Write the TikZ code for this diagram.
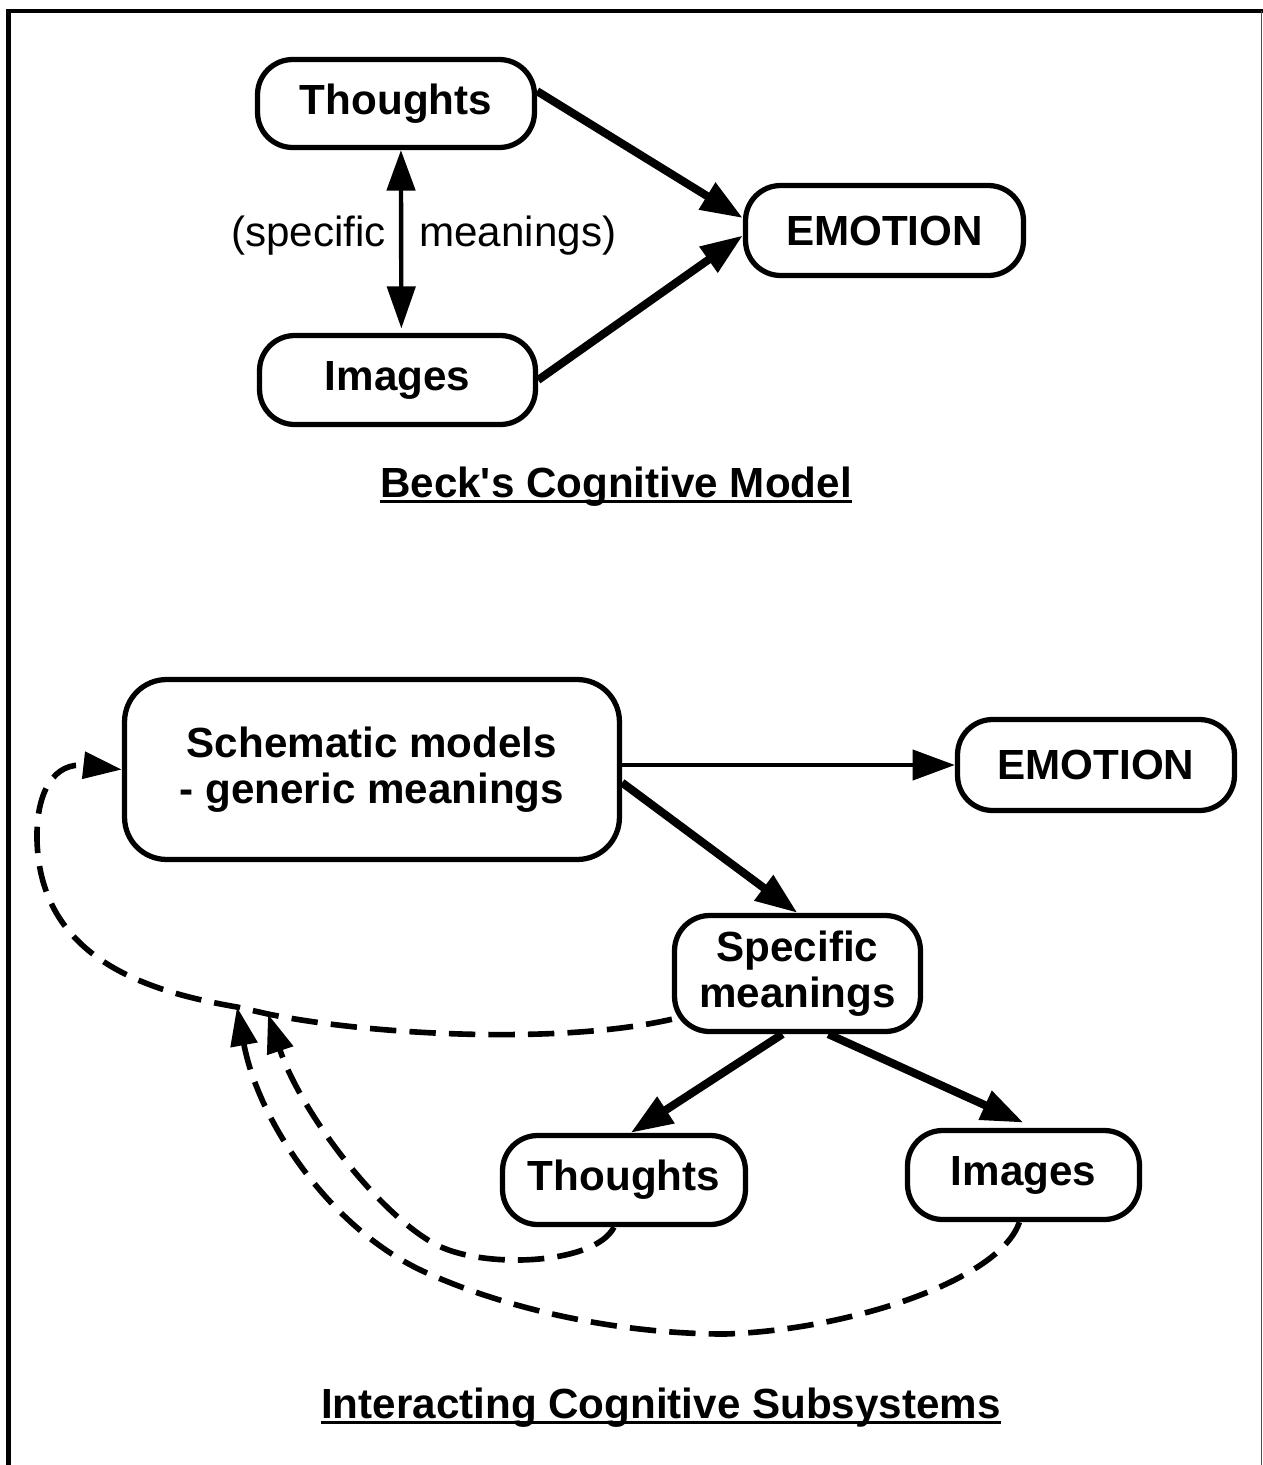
\documentclass[tikz,border=0pt]{standalone}
\usepackage{fontspec}
\setmainfont{Liberation Sans}[Ligatures=TeXOff]
\usetikzlibrary{arrows.meta}

\begin{document}
\begin{tikzpicture}[x=0.02cm, y=-0.02cm,
  box/.style={draw, line width=3pt, rounded corners=20pt, align=center,
    inner sep=0pt, font=\bfseries\fontsize{24}{26.2}\selectfont},
  heavy/.style={-{Triangle[length=24pt,width=17pt]}, line width=4.6pt},
  light/.style={-{Triangle[length=24pt,width=17pt]}, line width=2.5pt},
  both/.style={{Triangle[length=23pt,width=16pt]}-{Triangle[length=24pt,width=16pt]}, line width=2.5pt},
  feedback/.style={-{Triangle[length=22pt,width=15pt]}, line width=3.2pt, dash pattern=on 15pt off 7.5pt},
  title/.style={font=\bfseries\fontsize{24}{26}\selectfont, inner sep=0pt, anchor=base},
  lbl/.style={font=\fontsize{24}{26}\selectfont, inner sep=0pt},
]
\useasboundingbox (0,0) rectangle (1263,1465);

% frame
\draw[line width=2.6pt] (8.3,1465) -- (8.3,10.8) -- (1263,10.8);
\draw[line width=0.9pt, black!70] (1261.5,10.8) -- (1261.5,1465);

% ---- Beck's cognitive model ----
\node[box, minimum width=5.54cm, minimum height=1.76cm] (th) at (396,103.5) {Thoughts};
\node[box, minimum width=5.52cm, minimum height=1.78cm] (im) at (397.5,380) {\raisebox{-3pt}{Images}};
\node[box, minimum width=5.56cm, minimum height=1.8cm] (emo) at (884.5,230.5) {EMOTION};

\draw[both] ([xshift=2.8pt]th.south) -- ([xshift=2.2pt,yshift=2.5pt]im.north);
\node[lbl, anchor=base east] (lspec) at (386,246) {(specific};
\node[lbl, anchor=base west] (lmean) at (419,246) {meanings)};

\draw[heavy] (th.5) -- (emo.175);
\draw[heavy] (im.east) -- (emo.-178);

\node[title] (beck) at (616,497) {Beck's Cognitive Model};
\draw[line width=1.3pt] ([yshift=-2.5pt]beck.base west) -- ([yshift=-2.5pt]beck.base east);

% ---- Interacting cognitive subsystems ----
\node[box, rounded corners=24pt, minimum width=9.9cm, minimum height=3.6cm] (sch) at (372,769.5)
  {Schematic models\\- generic meanings};
\node[box, minimum width=5.54cm, minimum height=1.82cm] (emo2) at (1096,765) {EMOTION};
\node[box, minimum width=4.92cm, minimum height=2.32cm] (spec) at (797.5,973.5) {Specific\\meanings};
\node[box, minimum width=4.86cm, minimum height=1.78cm] (thB) at (624,1180) {Thoughts};
\node[box, minimum width=4.64cm, minimum height=1.78cm] (imB) at (1023.5,1175) {Images};

\draw[light] (sch.east |- emo2.west) -- (emo2.west);
\draw[heavy] (sch.-3) -- (spec.north);
\draw[heavy] (spec.-104) -- (thB.82);
\draw[heavy] (spec.-63) -- ([yshift=3pt]imB.north);

% feedback loops into the schematic level
\coordinate (j3) at (237,1007);
\coordinate (j2) at (268,1014);
\draw[feedback] (spec.-160) .. controls (560,1045) and (370,1035) .. (j2) -- (j3)
  .. controls (150,992) and (40,960) .. (37,840)
  .. controls (36,790) and (55,762) .. (sch.west);
\draw[feedback] (thB.-102) .. controls (595,1265) and (480,1270) .. (433,1243)
  .. controls (375,1210) and (300,1110) .. (j2);
\draw[feedback] (imB.-95) .. controls (1000,1280) and (850,1330) .. (725,1334)
  .. controls (620,1334) and (510,1310) .. (427,1273)
  .. controls (330,1230) and (258,1120) .. (j3);

\node[title] (ics) at (661,1418) {Interacting Cognitive Subsystems};
\draw[line width=1.3pt] ([yshift=-2.5pt]ics.base west) -- ([yshift=-2.5pt]ics.base east);
\end{tikzpicture}
\end{document}
